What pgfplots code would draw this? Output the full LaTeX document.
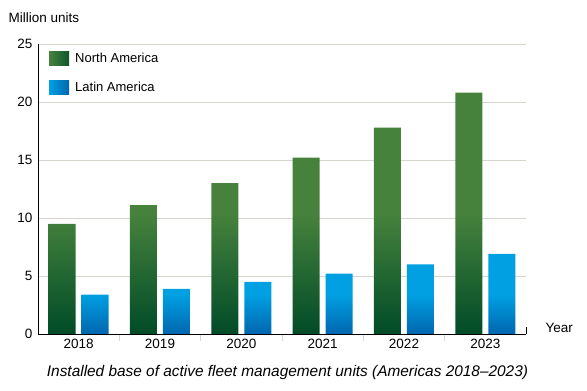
\documentclass[border=0pt]{standalone}
\usepackage{pgfplots}
\pgfplotsset{compat=1.18}
\usepackage{fontspec}
\setmainfont{Liberation Sans}
\definecolor{nagreen}{HTML}{46823C}
\definecolor{nadark}{HTML}{004B28}
\definecolor{lablue}{HTML}{00A0E3}
\definecolor{ladark}{HTML}{0066AE}
\definecolor{gridc}{HTML}{D8D5CE}
\begin{document}
\begin{tikzpicture}
\path[use as bounding box] (-38pt,-57pt) rectangle (549pt,334pt);
\begin{axis}[
  at={(0pt,0pt)}, anchor=south west,
  scale only axis, width=488pt, height=290pt,
  ybar=6pt, bar width=27pt,
  xmin=-0.5, xmax=5.5, ymin=0, ymax=25,
  axis x line*=bottom, axis y line*=left,
  axis line style={black, line width=0.9pt},
  xtick={0,1,2,3,4,5},
  xticklabels={2018,2019,2020,2021,2022,2023},
  minor xtick={0.5,1.5,2.5,3.5,4.5},
  minor tick length=7pt,
  minor tick style={gridc, line width=0.8pt},
  major tick length=0pt,
  ytick={0,5,10,15,20,25},
  ymajorgrids, grid style={gridc, line width=0.8pt},
  /pgf/number format/assume math mode=true,
  tick label style={font=\fontsize{13.5}{15}\selectfont},
  xticklabel style={yshift=-2pt},
  yticklabel style={xshift=-2pt},
  legend style={at={(axis description cs:0,1)}, anchor=north west, xshift=11pt, yshift=-7pt,
    draw=none, fill=none, inner sep=0pt, row sep=14pt,
    nodes={inner xsep=6pt},
    font=\fontsize{13}{15}\selectfont},
  legend cell align=left,
  clip=false,
]
\addplot[draw=none, top color=nagreen, bottom color=nadark, middle color=nagreen,
  legend image code/.code={\path[left color=nagreen, right color=nadark!80!nagreen] (0pt,-7pt) rectangle (20pt,7pt);}]
  coordinates {(0,9.5) (1,11.1) (2,13.0) (3,15.2) (4,17.8) (5,20.8)};
\addlegendentry{North America}
\addplot[draw=none, top color=lablue, bottom color=ladark, middle color=lablue,
  legend image code/.code={\path[left color=lablue, right color=ladark] (0pt,-7pt) rectangle (20pt,7pt);}]
  coordinates {(0,3.4) (1,3.9) (2,4.5) (3,5.2) (4,6.0) (5,6.9)};
\addlegendentry{Latin America}
\draw[black, line width=0.9pt] (axis cs:5.5,0) -- ++(0pt,7pt);
\end{axis}
\node[anchor=west, font=\fontsize{13.5}{15}\selectfont] at (-33pt,316pt) {Million units};
\node[anchor=west, font=\fontsize{13.5}{15}\selectfont] at (504pt,6pt) {Year};
\node[font=\fontsize{15.4}{17}\selectfont\itshape] at (249.5pt,-39pt) {Installed base of active fleet management units (Americas 2018–2023)};
\end{tikzpicture}
\end{document}
